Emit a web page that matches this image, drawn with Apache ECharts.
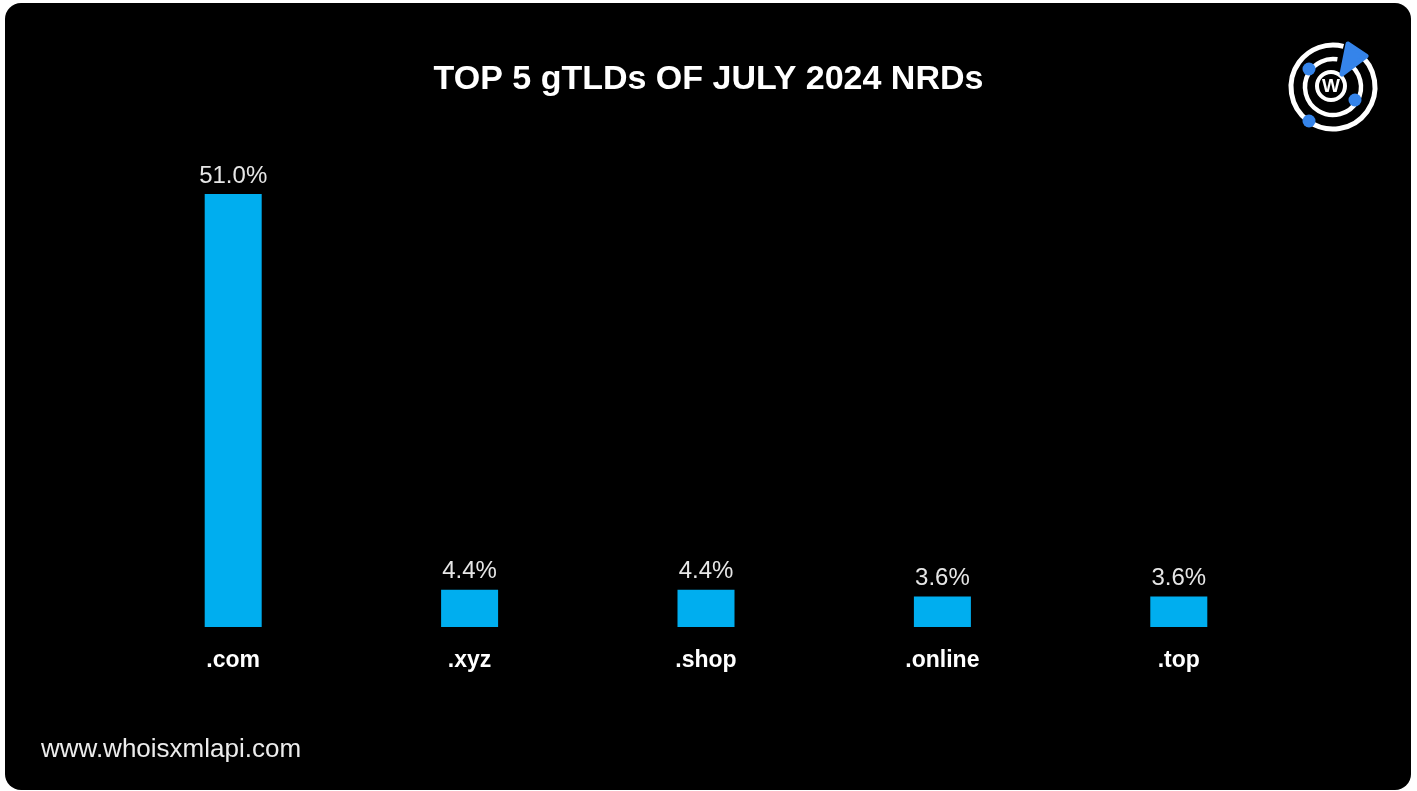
<!DOCTYPE html>
<html>
<head>
<meta charset="utf-8">
<script src="https://cdn.jsdelivr.net/npm/echarts@6/dist/echarts.min.js"></script>
<style>
html,body{margin:0;padding:0;background:#fff;}
#chart{width:1417px;height:791px;}
</style>
</head>
<body>
<div id="chart"></div>
<script>
const categories = ['.com', '.xyz', '.shop', '.online', '.top'];
const shares = [51.0, 4.4, 4.4, 3.6, 3.6];
const titleText = 'TOP 5 gTLDs OF JULY 2024 NRDs';
const footerText = 'www.whoisxmlapi.com';

const chart = echarts.init(document.getElementById('chart'), null, {renderer: 'canvas'});
const font = '"Liberation Sans", Arial, Helvetica, sans-serif';
const logoBlue = '#3584ea';

chart.setOption({
  backgroundColor: '#ffffff',
  animation: false,
  title: {
    text: titleText,
    left: 'center',
    top: 58,
    textStyle: {color: '#ffffff', fontSize: 34, fontWeight: 'bold', fontFamily: font}
  },
  grid: {left: 115, right: 120, top: 194, bottom: 164, containLabel: false},
  xAxis: {
    type: 'category',
    data: categories,
    axisLine: {show: false},
    axisTick: {show: false},
    axisLabel: {color: '#ffffff', fontSize: 23, fontWeight: 'bold', fontFamily: font, margin: 22}
  },
  yAxis: {
    type: 'value', min: 0, max: 51, show: false,
    splitLine: {show: false}
  },
  series: [{
    type: 'bar',
    data: shares,
    barWidth: 57,
    itemStyle: {color: '#00aeef'},
    label: {
      show: true, position: 'top', distance: 6,
      color: '#e6e6e6', fontSize: 24, fontFamily: font,
      formatter: p => p.value.toFixed(1) + '%'
    },
    z: 5
  }],
  graphic: [
    {type: 'rect', z: -10, silent: true, shape: {x: 5, y: 3, width: 1406, height: 787, r: 16}, style: {fill: '#000000'}},
    {type: 'text', left: 41, top: 737, style: {text: footerText, fill: '#ececec', fontSize: 26, fontFamily: font}},
    // logo
    {type: 'arc', shape: {cx: 1333, cy: 87, r: 42, startAngle: -Math.PI * 0.30, endAngle: -Math.PI * 0.42 + 2 * Math.PI}, style: {stroke: '#ffffff', lineWidth: 5, fill: null}},
    {type: 'arc', shape: {cx: 1333, cy: 87, r: 28, startAngle: -Math.PI * 0.33, endAngle: -Math.PI * 0.45 + 2 * Math.PI}, style: {stroke: '#ffffff', lineWidth: 4.5, fill: null}},
    {type: 'circle', shape: {cx: 1331, cy: 86, r: 14}, style: {fill: null, stroke: '#ffffff', lineWidth: 4}},
    {type: 'text', style: {x: 1331, y: 87, text: 'W', fill: '#ffffff', fontSize: 19, fontWeight: 'bold', fontFamily: font, align: 'center', verticalAlign: 'middle'}},
    {type: 'circle', shape: {cx: 1309, cy: 69, r: 6.5}, style: {fill: logoBlue}},
    {type: 'circle', shape: {cx: 1355, cy: 100, r: 6.5}, style: {fill: logoBlue}},
    {type: 'circle', shape: {cx: 1309, cy: 121, r: 6.5}, style: {fill: logoBlue}},
    {type: 'polygon', shape: {points: [[1348, 44], [1366, 56], [1342, 74]], smooth: 0}, style: {fill: logoBlue, stroke: logoBlue, lineWidth: 5, lineJoin: 'round'}}
  ]
});
</script>
</body>
</html>
